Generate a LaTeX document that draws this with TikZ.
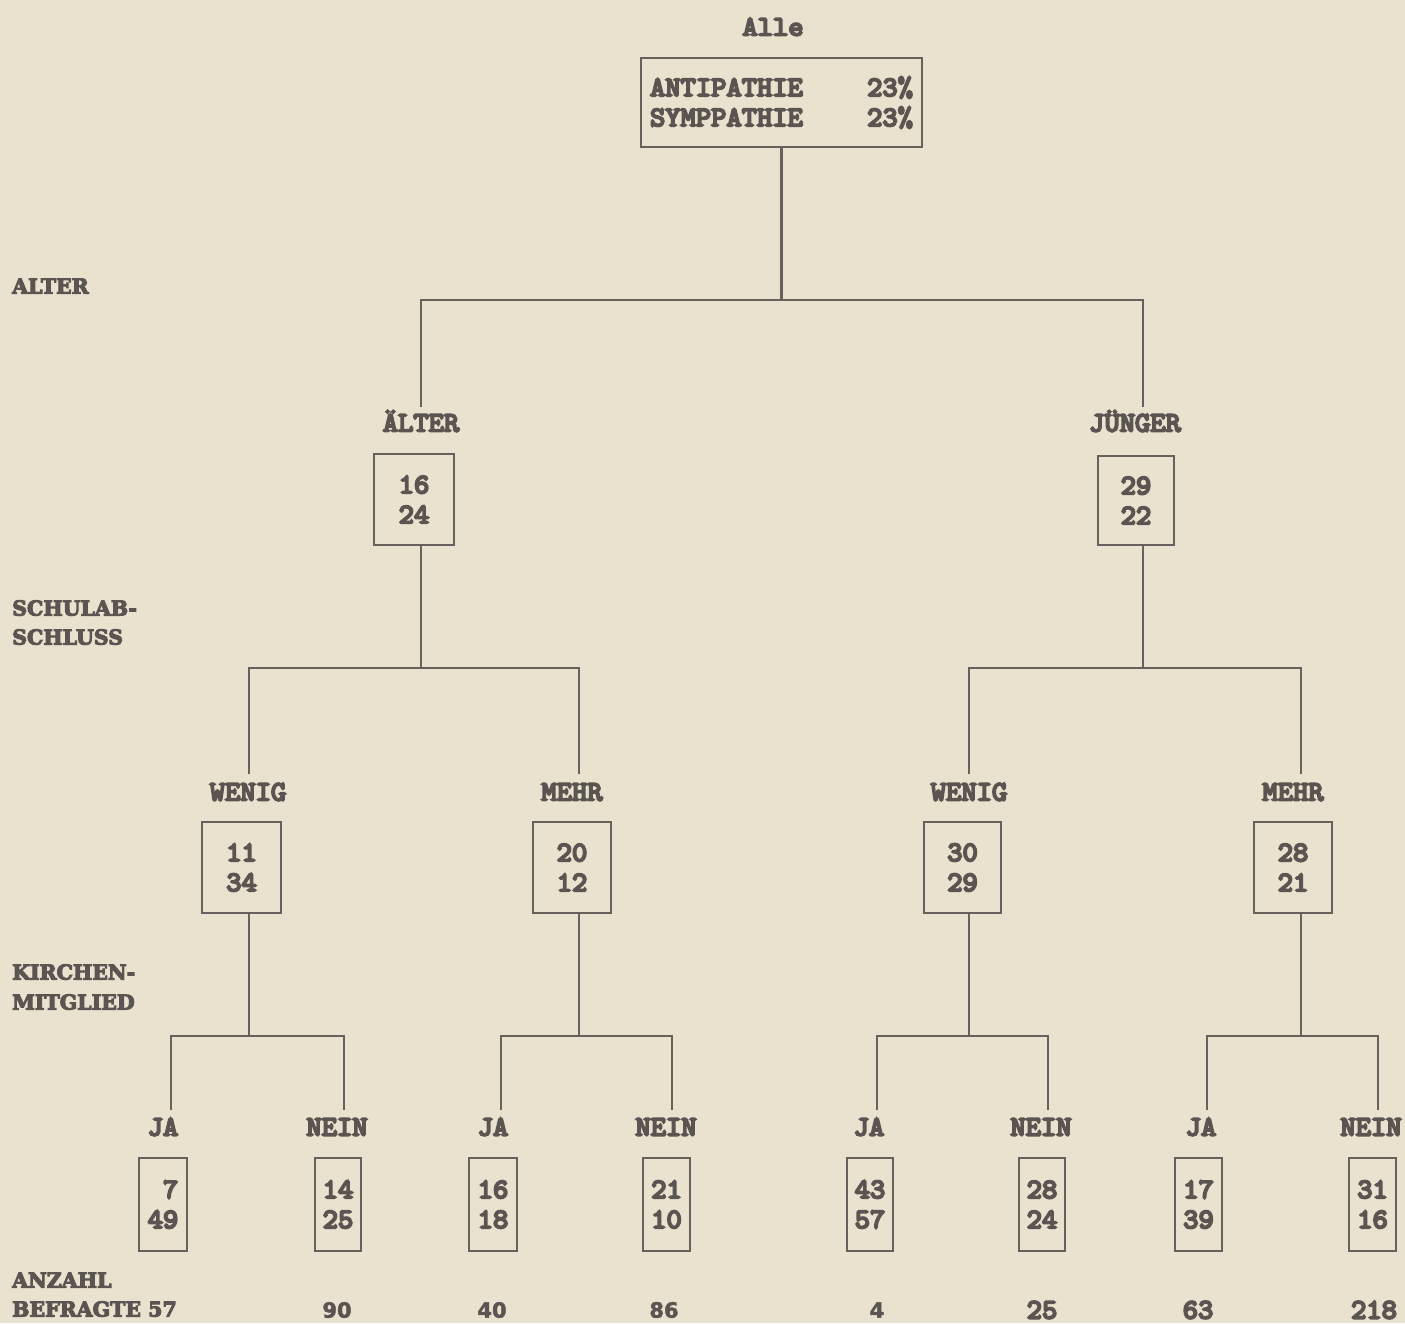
\documentclass[tikz,border=0pt]{standalone}
\usepackage{fontspec}
\newfontfamily\slab{DejaVu Serif}[BoldFeatures={FakeBold=5}]
\newfontfamily\sansd{DejaVu Sans}[BoldFeatures={FakeBold=2}]
\newfontfamily\tw{lmmono10-regular.otf}[FakeBold=7, FakeStretch=1.04]
\definecolor{paper}{HTML}{E8E2CE}
\definecolor{ink}{HTML}{5A5550}
\definecolor{lineink}{HTML}{66615B}
\begin{document}
\begin{tikzpicture}[x=1pt,y=-1pt,
  tw/.style={font=\tw\fontsize{28}{30}\selectfont, text=ink, inner sep=0pt},
  lbl/.style={tw, text height=17pt, text depth=0pt},
  bx/.style={tw, draw=lineink, line width=2.4pt, align=right},
  side/.style={font=\slab\bfseries\fontsize{20.5}{24}\selectfont, text=ink, inner sep=0pt,
    text height=15pt, text depth=0pt, anchor=west},
  cnt/.style={font=\sansd\bfseries\fontsize{21}{24}\selectfont, text=ink, inner sep=0pt,
    text height=15.3pt, text depth=0pt},
  conn/.style={draw=lineink, line width=2.4pt}]
\path[fill=paper] (0,0) rectangle (1405,1323);
\useasboundingbox (0,0) rectangle (1405,1323);

% side labels
\node[side] (sAlter) at (12,286) {ALTER};
\node[side] (sSch1) at (12,608) {SCHULAB-};
\node[side] (sSch2) at (12,637) {SCHLUSS};
\node[side] (sKir1) at (12,972) {KIRCHEN-};
\node[side] (sKir2) at (12,1002) {MITGLIED};
\node[side] (sAnz1) at (12,1280) {ANZAHL};
\node[side] (sAnz2) at (12,1309) {BEFRAGTE 57};

% root
\node[lbl] (lAlle) at (773,27) {Alle};
\node[tw, draw=lineink, line width=2.4pt, align=center, minimum width=281pt, minimum height=89pt]
  (top) at (781.5,102.5) {\makebox[263pt]{ANTIPATHIE\hfill23\%}\\\makebox[263pt]{SYMPPATHIE\hfill23\%}};

% level 1
\node[lbl] (lAe) at (421,423) {ÄLTER};
\node[lbl] (lJu) at (1135,423) {JÜNGER};
\node[bx, minimum width=80pt, minimum height=91pt] (bAe) at (414,499.5) {16\\24};
\node[bx, minimum width=76pt, minimum height=89pt] (bJu) at (1136,500.5) {29\\22};

% level 2
\node[lbl] (lW1) at (248,792) {WENIG};
\node[lbl] (lM1) at (572,792) {MEHR};
\node[lbl] (lW2) at (969,792) {WENIG};
\node[lbl] (lM2) at (1293,792) {MEHR};
\node[bx, minimum width=79pt, minimum height=91pt] (bW1) at (241.5,867.5) {11\\34};
\node[bx, minimum width=78pt, minimum height=91pt] (bM1) at (572,867.5) {20\\12};
\node[bx, minimum width=77pt, minimum height=91pt] (bW2) at (962.5,867.5) {30\\29};
\node[bx, minimum width=78pt, minimum height=91pt] (bM2) at (1293,867.5) {28\\21};

% level 3
\node[lbl] (lJ1) at (163,1127) {JA};
\node[lbl] (lN1) at (337,1127) {NEIN};
\node[lbl] (lJ2) at (493,1127) {JA};
\node[lbl] (lN2) at (666,1127) {NEIN};
\node[lbl] (lJ3) at (869,1127) {JA};
\node[lbl] (lN3) at (1041,1127) {NEIN};
\node[lbl] (lJ4) at (1201,1127) {JA};
\node[lbl] (lN4) at (1371,1127) {NEIN};
\node[bx, minimum width=48pt, minimum height=93pt] (b1) at (163,1204.5) {7\\49};
\node[bx, minimum width=46pt, minimum height=93pt] (b2) at (338,1204.5) {14\\25};
\node[bx, minimum width=48pt, minimum height=93pt] (b3) at (493,1204.5) {16\\18};
\node[bx, minimum width=47pt, minimum height=93pt] (b4) at (666.5,1204.5) {21\\10};
\node[bx, minimum width=46pt, minimum height=93pt] (b5) at (870,1204.5) {43\\57};
\node[bx, minimum width=46pt, minimum height=93pt] (b6) at (1042,1204.5) {28\\24};
\node[bx, minimum width=47pt, minimum height=93pt] (b7) at (1198.5,1204.5) {17\\39};
\node[bx, minimum width=47pt, minimum height=93pt] (b8) at (1372.5,1204.5) {31\\16};

% counts
\node[cnt] (c2) at (337,1310) {90};
\node[cnt] (c3) at (492,1310) {40};
\node[cnt] (c4) at (664,1310) {86};
\node[cnt] (c5) at (877,1310) {4};
\node[lbl] (c6) at (1042,1310) {25};
\node[lbl] (c7) at (1198,1310) {63};
\node[lbl] (c8) at (1374,1310) {218};

% connectors
\coordinate (j0) at (781.5,300);
\coordinate (eAe) at (421,407);
\coordinate (eJu) at (1143,407);
\draw[conn] (top.south) -- (j0);
\draw[conn] (eAe) |- (j0) -| (eJu);

\coordinate (j1) at (421,668);
\coordinate (eW1) at (249,774);
\coordinate (eM1) at (579,774);
\draw[conn] (bAe.south -| j1) -- (j1);
\draw[conn] (eW1) |- (j1) -| (eM1);

\coordinate (j2) at (1143,668);
\coordinate (eW2) at (969,774);
\coordinate (eM2) at (1301,774);
\draw[conn] (bJu.south -| j2) -- (j2);
\draw[conn] (eW2) |- (j2) -| (eM2);

\coordinate (j3) at (249,1036);
\coordinate (eJ1) at (171,1110);
\coordinate (eN1) at (344,1110);
\draw[conn] (bW1.south -| j3) -- (j3);
\draw[conn] (eJ1) |- (j3) -| (eN1);

\coordinate (j4) at (579,1036);
\coordinate (eJ2) at (501,1110);
\coordinate (eN2) at (672,1110);
\draw[conn] (bM1.south -| j4) -- (j4);
\draw[conn] (eJ2) |- (j4) -| (eN2);

\coordinate (j5) at (969,1036);
\coordinate (eJ3) at (877,1110);
\coordinate (eN3) at (1048,1110);
\draw[conn] (bW2.south -| j5) -- (j5);
\draw[conn] (eJ3) |- (j5) -| (eN3);

\coordinate (j6) at (1301,1036);
\coordinate (eJ4) at (1207,1110);
\coordinate (eN4) at (1378,1110);
\draw[conn] (bM2.south -| j6) -- (j6);
\draw[conn] (eJ4) |- (j6) -| (eN4);
\end{tikzpicture}
\end{document}
